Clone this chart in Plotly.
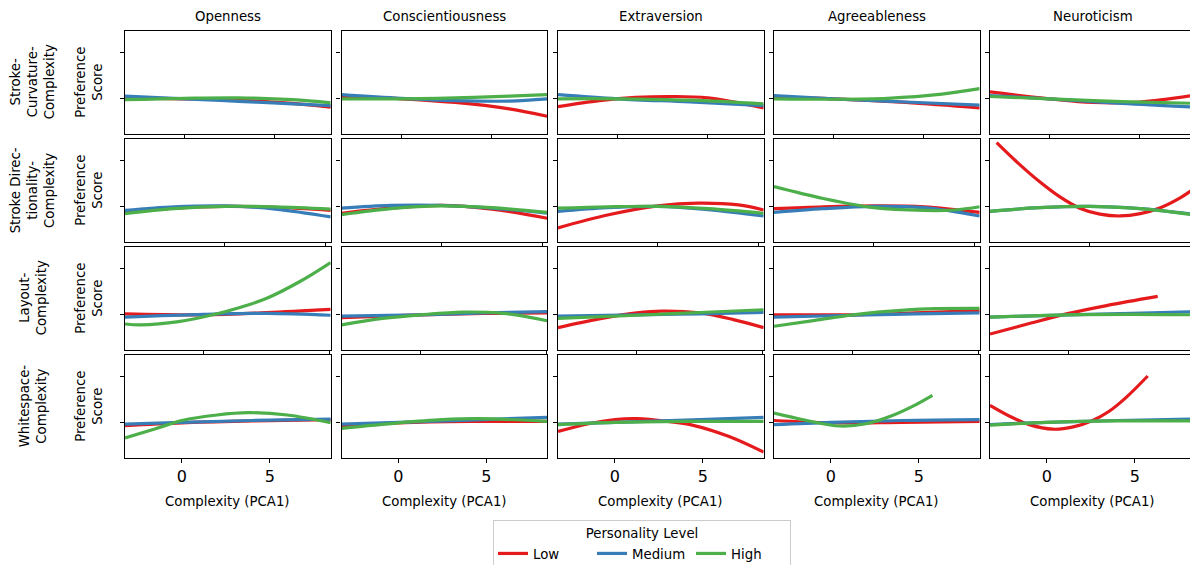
import plotly.graph_objects as go

# ---------------- data ----------------
TRAITS = ["Openness", "Conscientiousness", "Extraversion", "Agreeableness", "Neuroticism"]
ROW_LABELS = ["Stroke-<br>Curvature-<br>Complexity",
              "Stroke Direc-<br>tionality-<br>Complexity",
              "Layout-<br>Complexity",
              "Whitespace-<br>Complexity"]
LEVELS = ["Low", "Medium", "High"]
COLORS = {"Low": "#e41a1c", "Medium": "#377eb8", "High": "#4daf4a"}
ROW_XRANGE = [[-3.3, 8.1], [-4.95, 5.25], [-3.13, 5.04], [-3.24, 8.47]]
X_TICKS = [0, 5]
Y_RANGE = [-0.761, 1.478]
Y_TICKS = [0, 1]

# Row 1: Stroke-Curvature-Complexity
curv_openness = {
    "Low": ([-3.3, 0, 3, 6, 8.1], [0.02, 0.0, -0.03, -0.1, -0.18]),
    "Medium": ([-3.3, 0, 3, 6, 8.1], [0.06, 0.0, -0.055, -0.11, -0.15]),
    "High": ([-3.3, 0, 3, 6, 8.1], [-0.02, 0.01, 0.02, -0.02, -0.09]),
}
curv_conscientiousness = {
    "Low": ([-3.3, 0, 3, 6, 8.1], [0.04, 0.0, -0.08, -0.22, -0.38]),
    "Medium": ([-3.3, 0, 3, 6, 8.1], [0.09, 0.01, -0.04, -0.05, 0.0]),
    "High": ([-3.3, 0, 3, 6, 8.1], [0.0, 0.0, 0.02, 0.06, 0.09]),
}
curv_extraversion = {
    "Low": ([-3.3, -1, 1, 3, 5, 8.1], [-0.17, -0.04, 0.03, 0.05, 0.02, -0.2]),
    "Medium": ([-3.3, 0, 4, 8.1], [0.09, 0.0, -0.07, -0.15]),
    "High": ([-3.3, 0, 4, 8.1], [0.0, 0.0, -0.03, -0.11]),
}
curv_agreeableness = {
    "Low": ([-3.3, 0, 4, 8.1], [0.03, 0.0, -0.08, -0.2]),
    "Medium": ([-3.3, 0, 4, 8.1], [0.07, 0.0, -0.07, -0.14]),
    "High": ([-3.3, 0, 3, 6, 8.1], [0.0, -0.01, 0.01, 0.1, 0.22]),
}
curv_neuroticism = {
    "Low": ([-3.3, 0, 2.4, 5, 8.1], [0.15, 0.0, -0.08, -0.07, 0.08]),
    "Medium": ([-3.3, 0, 4, 8.1], [0.07, 0.0, -0.1, -0.18]),
    "High": ([-3.3, 0, 4, 8.1], [0.05, 0.0, -0.06, -0.1]),
}

# Row 2: Stroke Directionality-Complexity
dir_openness = {
    "Low": ([-4.95, -2.5, 0, 2.5, 5.25], [-0.12, -0.03, 0.01, -0.01, -0.08]),
    "Medium": ([-4.95, -2.5, 0, 2.5, 5.25], [-0.08, 0.0, 0.02, -0.05, -0.22]),
    "High": ([-4.95, -2.5, 0, 2.5, 5.25], [-0.15, -0.04, 0.01, 0.0, -0.05]),
}
dir_conscientiousness = {
    "Low": ([-4.95, -2.5, 0, 2.5, 5.25], [-0.14, -0.03, 0.03, -0.05, -0.25]),
    "Medium": ([-4.95, -2.5, 0, 2.5, 5.25], [-0.03, 0.03, 0.03, -0.03, -0.14]),
    "High": ([-4.95, -2.5, 0, 2.5, 5.25], [-0.17, -0.04, 0.02, -0.02, -0.12]),
}
dir_extraversion = {
    "Low": ([-4.95, -2.5, 0, 2, 4, 5.25], [-0.46, -0.18, 0.02, 0.08, 0.04, -0.07]),
    "Medium": ([-4.95, -2.5, 0, 2.5, 5.25], [-0.1, -0.02, 0.01, -0.06, -0.2]),
    "High": ([-4.95, -2.5, 0, 2.5, 5.25], [-0.03, 0.0, 0.01, -0.04, -0.14]),
}
dir_agreeableness = {
    "Low": ([-4.95, -2.5, 0, 2.5, 5.25], [-0.04, 0.0, 0.02, 0.0, -0.12]),
    "Medium": ([-4.95, -2.5, 0, 2.5, 5.25], [-0.12, -0.04, 0.01, -0.02, -0.2]),
    "High": ([-4.95, -2.5, 0, 2.5, 4, 5.25], [0.44, 0.18, -0.02, -0.08, -0.07, 0.0]),
}
dir_neuroticism = {
    "Low": ([-4.62, -3.5, -2.5, -1.5, -0.5, 0.5, 1.5, 2.5, 3.5, 4.5, 5.25],
            [1.4, 0.93, 0.55, 0.22, -0.03, -0.16, -0.2, -0.15, -0.02, 0.2, 0.42]),
    "Medium": ([-4.95, -2.5, 0, 2.5, 5.25], [-0.1, -0.02, 0.01, -0.04, -0.17]),
    "High": ([-4.95, -2.5, 0, 2.5, 5.25], [-0.1, -0.02, 0.01, -0.04, -0.18]),
}

# Row 3: Layout-Complexity
lay_openness = {
    "Low": ([-3.13, 0, 2.5, 5.04], [0.02, 0.0, 0.05, 0.12]),
    "Medium": ([-3.13, 0, 2.5, 5.04], [-0.05, 0.01, 0.03, -0.01]),
    "High": ([-3.13, -2.5, -1, 0.36, 1.5, 2.5, 3.8, 5.04], [-0.2, -0.22, -0.15, 0.0, 0.17, 0.36, 0.72, 1.14]),
}
lay_conscientiousness = {
    "Low": ([-3.13, 0, 2.5, 5.04], [-0.06, 0.0, 0.03, 0.04]),
    "Medium": ([-3.13, 0, 2.5, 5.04], [-0.03, 0.0, 0.04, 0.07]),
    "High": ([-3.13, -1.5, 0, 1.7, 3.3, 5.04], [-0.22, -0.08, 0.0, 0.06, 0.03, -0.13]),
}
lay_extraversion = {
    "Low": ([-3.13, -1.5, 0, 1.0, 2.5, 3.8, 5.04], [-0.28, -0.09, 0.04, 0.08, 0.04, -0.1, -0.28]),
    "Medium": ([-3.13, 0, 2.5, 5.04], [-0.03, 0.0, 0.02, 0.05]),
    "High": ([-3.13, 0, 2.5, 5.04], [-0.08, -0.01, 0.05, 0.11]),
}
lay_agreeableness = {
    "Low": ([-3.13, 0, 2.5, 5.04], [0.0, 0.0, 0.04, 0.09]),
    "Medium": ([-3.13, 0, 2.5, 5.04], [-0.05, -0.01, 0.02, 0.04]),
    "High": ([-3.13, -1.5, 0, 1.5, 3, 5.04], [-0.25, -0.12, 0.0, 0.08, 0.13, 0.14]),
}
lay_neuroticism = {
    "Low": ([-3.13, -1.5, 0, 1.5, 3.53], [-0.42, -0.18, 0.03, 0.2, 0.4]),
    "Medium": ([-3.13, 0, 2.5, 5.04], [-0.05, 0.0, 0.03, 0.07]),
    "High": ([-3.13, 0, 2.5, 5.04], [-0.05, 0.0, 0.01, 0.0]),
}

# Row 4: Whitespace-Complexity
ws_openness = {
    "Low": ([-3.24, 0, 4, 8.47], [-0.06, 0.0, 0.04, 0.07]),
    "Medium": ([-3.24, 0, 4, 8.47], [-0.03, 0.01, 0.05, 0.08]),
    "High": ([-3.24, -1.5, 0, 2, 3.75, 6, 8.47], [-0.33, -0.13, 0.05, 0.17, 0.22, 0.17, 0.0]),
}
ws_conscientiousness = {
    "Low": ([-3.24, 0, 4, 8.47], [-0.06, 0.0, 0.03, 0.03]),
    "Medium": ([-3.24, 0, 4, 8.47], [-0.03, 0.01, 0.06, 0.12]),
    "High": ([-3.24, 0, 2.5, 4.6, 8.47], [-0.12, 0.0, 0.07, 0.09, 0.03]),
}
ws_extraversion = {
    "Low": ([-3.24, -1.5, 0, 1.25, 3, 4.4, 6.5, 8.47], [-0.19, -0.02, 0.07, 0.09, 0.03, -0.05, -0.3, -0.64]),
    "Medium": ([-3.24, 0, 4, 8.47], [-0.03, 0.01, 0.06, 0.12]),
    "High": ([-3.24, 0, 4, 8.47], [-0.04, 0.01, 0.03, 0.03]),
}
ws_agreeableness = {
    "Low": ([-3.24, 0, 4, 8.47], [0.05, 0.0, 0.01, 0.03]),
    "Medium": ([-3.24, 0, 4, 8.47], [-0.04, 0.01, 0.05, 0.07]),
    "High": ([-3.24, -1.5, 0.5, 2, 3.5, 4.7, 5.78], [0.21, 0.06, -0.07, -0.02, 0.16, 0.37, 0.6]),
}
ws_neuroticism = {
    "Low": ([-3.24, -2, -1, 0.35, 1.5, 2.6, 3.5, 4.5, 5.74],
            [0.38, 0.12, -0.04, -0.14, -0.09, 0.05, 0.24, 0.55, 1.02]),
    "Medium": ([-3.24, 0, 4, 8.47], [-0.04, 0.01, 0.05, 0.08]),
    "High": ([-3.24, 0, 4, 8.47], [-0.05, 0.01, 0.04, 0.04]),
}

PANELS = [
    [curv_openness, curv_conscientiousness, curv_extraversion, curv_agreeableness, curv_neuroticism],
    [dir_openness, dir_conscientiousness, dir_extraversion, dir_agreeableness, dir_neuroticism],
    [lay_openness, lay_conscientiousness, lay_extraversion, lay_agreeableness, lay_neuroticism],
    [ws_openness, ws_conscientiousness, ws_extraversion, ws_agreeableness, ws_neuroticism],
]

# ---------------- layout geometry (pixels) ----------------
W, H = 1190, 565
COL_LEFT = [125, 341.5, 558, 774, 990]
PANEL_W = 205.7
ROW_TOP = [31, 139, 247, 355]
PANEL_H = 102.7
FONT = "DejaVu Sans"

fig = go.Figure()
annotations = []

for r in range(4):
    for c in range(5):
        idx = r * 5 + c + 1
        xa = "x" if idx == 1 else f"x{idx}"
        ya = "y" if idx == 1 else f"y{idx}"
        left = COL_LEFT[c]
        right = min(left + PANEL_W, W)
        visible_w = right - left
        x0, x1 = ROW_XRANGE[r]
        xr = [x0, x0 + (x1 - x0) * visible_w / PANEL_W]
        top = ROW_TOP[r]
        bottom = top + PANEL_H

        panel = PANELS[r][c]
        for lvl in LEVELS:
            xs, ys = panel[lvl]
            fig.add_trace(go.Scatter(
                x=xs, y=ys, mode="lines", name=lvl,
                line=dict(color=COLORS[lvl], width=3.2, shape="spline", smoothing=1.0),
                xaxis=xa, yaxis=ya, legendgroup=lvl,
                showlegend=(r == 0 and c == 0), hoverinfo="skip",
            ))

        last_col = (c == 4)
        xkey = "xaxis" if idx == 1 else f"xaxis{idx}"
        ykey = "yaxis" if idx == 1 else f"yaxis{idx}"
        fig.layout[xkey] = dict(
            domain=[left / W, right / W], anchor=ya, range=xr,
            tickvals=X_TICKS, ticktext=[str(v) for v in X_TICKS],
            showticklabels=(r == 3), ticks="outside", ticklen=4, tickwidth=1.2,
            tickcolor="black", showline=True, linecolor="black", linewidth=1.4,
            mirror=True, showgrid=False, zeroline=False, automargin=False,
            tickfont=dict(size=16, color="black", family=FONT),
        )
        fig.layout[ykey] = dict(
            domain=[1 - bottom / H, 1 - top / H], anchor=xa, range=Y_RANGE,
            tickvals=Y_TICKS, showticklabels=False, ticks="outside", ticklen=4,
            tickwidth=1.2, tickcolor="black", showline=True, linecolor="black",
            linewidth=1.4, mirror=(not last_col), showgrid=False, zeroline=False,
            automargin=False,
        )

        if r == 0:
            annotations.append(dict(
                text=TRAITS[c], x=(left + PANEL_W / 2) / W, y=1 - 16 / H,
                xref="paper", yref="paper", showarrow=False,
                font=dict(size=13.3, family=FONT, color="black"),
                xanchor="center", yanchor="middle"))
        if r == 3:
            annotations.append(dict(
                text="Complexity (PCA1)", x=(left + PANEL_W / 2) / W, y=1 - 501 / H,
                xref="paper", yref="paper", showarrow=False,
                font=dict(size=13.3, family=FONT, color="black"),
                xanchor="center", yanchor="middle"))
    ymid = 1 - (ROW_TOP[r] + PANEL_H / 2) / H
    annotations.append(dict(
        text=ROW_LABELS[r], x=33 / W, y=ymid, xref="paper", yref="paper",
        showarrow=False, textangle=-90, align="center",
        font=dict(size=13.3, family=FONT, color="black"),
        xanchor="center", yanchor="middle"))
    annotations.append(dict(
        text="Preference<br>Score", x=89.5 / W, y=ymid, xref="paper", yref="paper",
        showarrow=False, textangle=-90, align="center",
        font=dict(size=13.3, family=FONT, color="black"),
        xanchor="center", yanchor="middle"))

fig.update_layout(
    width=W, height=H, autosize=False,
    margin=dict(l=0, r=0, t=0, b=0, autoexpand=False),
    paper_bgcolor="white", plot_bgcolor="white",
    font=dict(family=FONT, size=13.3, color="black"),
    annotations=annotations,
    legend=dict(
        orientation="h", xref="container", yref="container",
        x=642 / W, xanchor="center", y=1 - 520 / H, yanchor="top",
        title=dict(text="Personality Level", side="top center",
                   font=dict(size=13.3, family=FONT)),
        font=dict(size=13.3, family=FONT), bordercolor="#cccccc", borderwidth=1,
        bgcolor="white", itemwidth=30, entrywidth=54, tracegroupgap=0,
    ),
)

fig.write_html(
    "out.html",
    config={"displayModeBar": False},
    post_script="document.body.style.margin='0px';document.body.style.overflow='hidden';",
)
